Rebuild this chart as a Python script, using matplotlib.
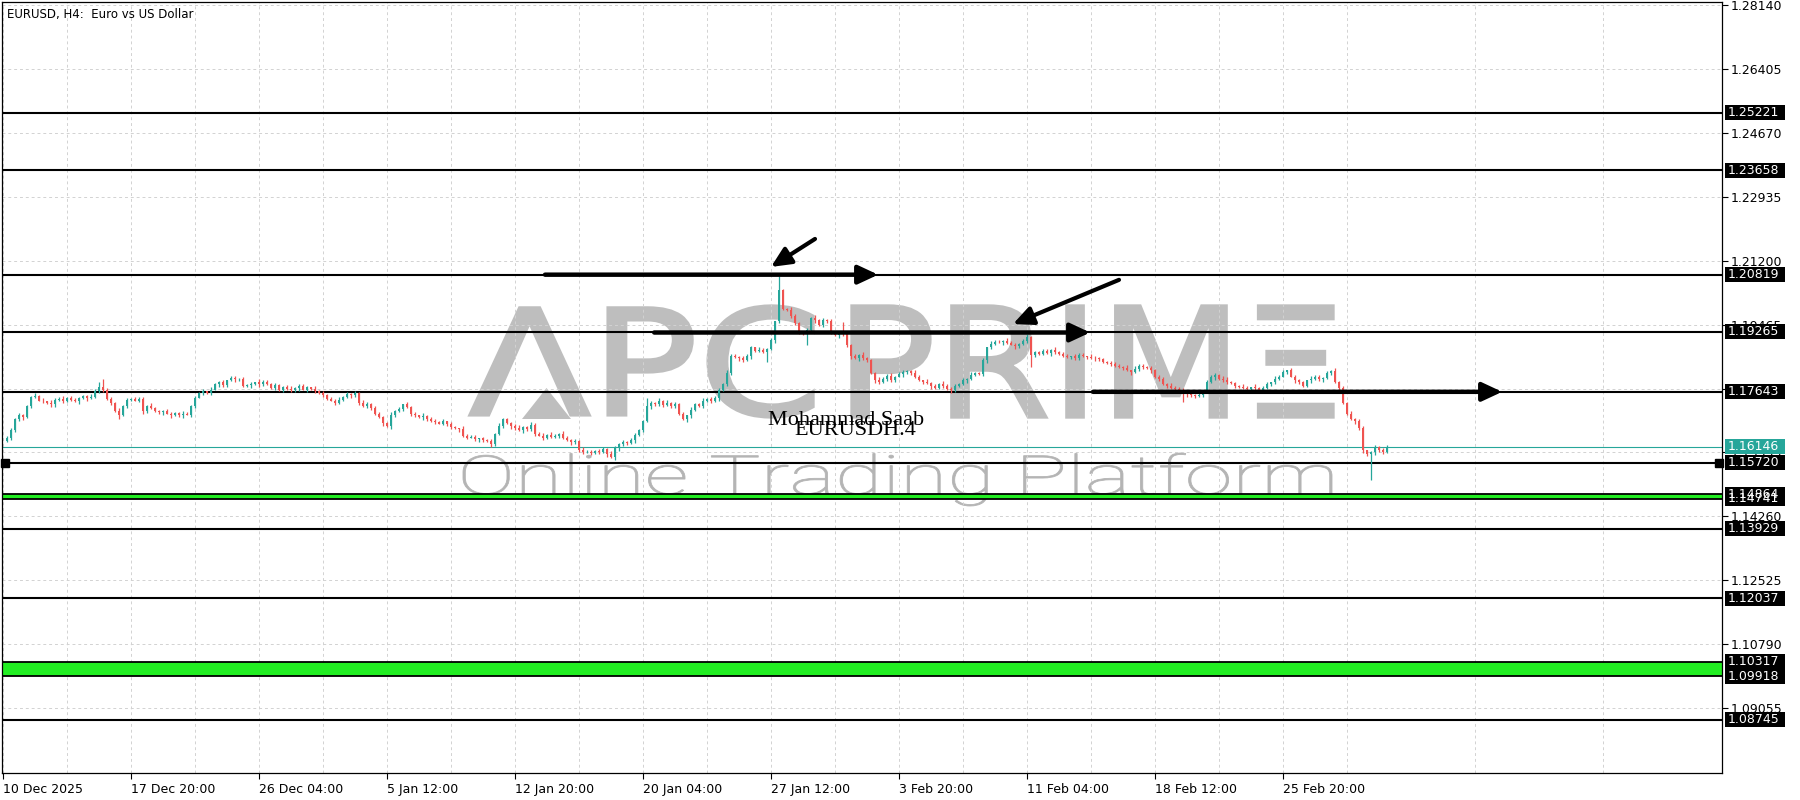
import matplotlib
matplotlib.use("Agg")
import matplotlib.pyplot as plt
import matplotlib.transforms as mtransforms
from matplotlib.patches import Rectangle, PathPatch
from matplotlib.textpath import TextPath
from matplotlib.font_manager import FontProperties
import numpy as np

# ---- data ----
# closes in pips above 1.1000, one per H4 bar (bar 1 .. 346)
close_pips = [
    640, 660, 690, 700, 695, 725, 750, 752, 740, 738,
    735, 730, 742, 745, 740, 747, 743, 738, 748, 752,
    746, 750, 765, 778, 770, 745, 735, 712, 700, 725,
    742, 745, 740, 745, 712, 725, 720, 712, 708, 712,
    705, 702, 706, 700, 704, 702, 725, 748, 760, 765,
    762, 770, 785, 790, 782, 795, 802, 798, 800, 780,
    782, 785, 790, 784, 792, 786, 775, 782, 770, 778,
    772, 768, 775, 780, 770, 776, 773, 765, 760, 755,
    745, 740, 735, 742, 750, 758, 755, 762, 735, 725,
    732, 720, 705, 695, 680, 670, 700, 712, 718, 730,
    722, 705, 700, 695, 698, 690, 685, 682, 678, 684,
    676, 668, 665, 662, 645, 640, 642, 636, 638, 632,
    630, 622, 650, 672, 690, 680, 670, 665, 660, 668,
    662, 675, 650, 645, 640, 648, 642, 645, 650, 640,
    632, 628, 630, 605, 600, 602, 598, 604, 600, 610,
    595, 588, 612, 622, 628, 625, 632, 648, 660, 685,
    725, 735, 730, 738, 728, 735, 725, 730, 705, 690,
    700, 715, 730, 725, 740, 745, 738, 748, 770, 785,
    815, 862, 858, 855, 850, 862, 885, 875, 878, 872,
    880, 905, 955, 1040, 990, 985, 970, 950, 925, 920,
    932, 965, 958, 945, 960, 955, 925, 918, 922, 920,
    890, 860, 855, 865, 855, 850, 815, 795, 790, 800,
    808, 795, 805, 812, 818, 820, 815, 805, 795, 792,
    788, 780, 775, 785, 780, 772, 768, 780, 785, 795,
    800, 810, 815, 812, 850, 885, 895, 900, 898, 903,
    897, 892, 888, 895, 902, 912, 865, 872, 868, 875,
    870, 878, 872, 868, 862, 858, 860, 855, 865, 860,
    858, 856, 855, 852, 845, 842, 840, 835, 832, 830,
    822, 818, 825, 835, 832, 828, 822, 805, 798, 785,
    780, 775, 772, 768, 760, 758, 755, 752, 756, 768,
    790, 805, 810, 800, 795, 790, 788, 780, 778, 775,
    772, 776, 774, 770, 775, 785, 790, 800, 805, 818,
    822, 805, 795, 790, 780, 795, 800, 805, 798, 802,
    815, 820, 790, 775, 735, 705, 690, 685, 665, 605,
    595, 600, 615, 605, 600, 615,
]
first_open = 1.1630

# wick sizes beyond the body, one digit per bar, in units of 2 pips
wick_up = ("2313221423 1322413212 2431322142 3122314221 3212431223 "
           "1422313212 2314221321 2413221323 1224132213 2132214231 "
           "3221413223 1321422312 2314221342 1322313214 2231422132 "
           "1432213221 3214231322 1422313221 4321322142 2313214221 "
           "3142213221 4231322142 2313221421 3221432213 1422314221 "
           "3221342213 2142231322 1432213221 3142213223 1422314221 "
           "3221342213 2142231322 1432213221 3142213223 1231322143")
wick_dn = ("1322413212 2431322142 3122314221 3212431223 1422313212 "
           "2314221321 2413221323 1224132213 2132214231 3221413223 "
           "1321422312 2314221342 1322313214 2231422132 1432213221 "
           "3214231322 1422313221 4321322142 2313214221 3142213221 "
           "4231322142 2313221421 3221432213 1422314221 3221342213 "
           "2142231322 1432213221 3142213223 1422314221 3221342213 "
           "2142231322 1432213221 3142213223 2313221423 2142313221")
# the long shadows
high_fix = {24: 1.1790, 25: 1.1800, 161: 1.1748, 194: 1.2078, 210: 1.1954}
low_fix = {29: 1.1690, 122: 1.1615, 151: 1.1588, 153: 1.1580,
           191: 1.1846, 201: 1.1891, 257: 1.1832, 295: 1.1737, 342: 1.1525}

date_bars = [0, 32, 64, 96, 128, 160, 192, 224, 256, 288, 320]
date_labels = ['10 Dec 2025', '17 Dec 20:00', '26 Dec 04:00', '5 Jan 12:00',
               '12 Jan 20:00', '20 Jan 04:00', '27 Jan 12:00', '3 Feb 20:00',
               '11 Feb 04:00', '18 Feb 12:00', '25 Feb 20:00']
price_ticks = [1.28140, 1.26405, 1.24670, 1.22935, 1.21200, 1.19465,
               1.17730, 1.15995, 1.14260, 1.12525, 1.10790, 1.09055]

levels = [1.25221, 1.23658, 1.20819, 1.19265, 1.17643, 1.15720,
          1.13929, 1.12037, 1.08745]
bands = [(1.14741, 1.14864), (1.09918, 1.10317)]
last_price = 1.16146

# arrows: (bar, price) tail -> head
h_arrows = [((135.5, 1.2082), (218.8, 1.2082)),
            ((162.8, 1.1925), (271.8, 1.1925)),
            ((272.5, 1.1764), (374.8, 1.1764))]
d_arrows = [((203.0, 1.2179), (192.0, 1.2103)),
            ((279.0, 1.2068), (252.5, 1.1948))]

# ---- build candles ----
n = len(close_pips)
bars = np.arange(1, n + 1)
closes = 1.1 + np.array(close_pips) / 10000.0
opens = np.r_[first_open, closes[:-1]]
wu = np.array([int(c) for c in wick_up.replace(' ', '')][:n]) * 0.0002
wd = np.array([int(c) for c in wick_dn.replace(' ', '')][:n]) * 0.0002
highs = np.maximum(opens, closes) + wu
lows = np.minimum(opens, closes) - wd
for b, v in high_fix.items():
    highs[b - 1] = v
for b, v in low_fix.items():
    lows[b - 1] = v

BULL = '#26a69a'
BEAR = '#ef5350'
GREEN = '#22ee22'
W, H = 1800, 800

plt.rcParams['font.family'] = ['DejaVu Sans']
fig = plt.figure(figsize=(18, 8), dpi=100)
ax = fig.add_axes([2 / W, 27 / H, 1720 / W, 771 / H])
ax.set_xlim(-0.25, 429.75)
ax.set_ylim(1.07293, 1.28222)

# grid
ax.set_xticks(date_bars)
ax.set_xticklabels(date_labels)
ax.set_xticks(np.arange(16, 430, 32), minor=True)
ax.set_yticks(price_ticks)
ax.set_yticklabels([f'{p:.5f}' for p in price_ticks])
ax.xaxis.grid(True, which='both', color='#d2d2d2', ls=(0, (3, 3)), lw=0.7)
ax.yaxis.grid(True, which='major', color='#d2d2d2', ls=(0, (3, 3)), lw=0.7)
ax.set_axisbelow(True)
ax.yaxis.tick_right()
ax.tick_params(axis='y', direction='out', length=4, width=0.8, labelsize=9, pad=2)
ax.tick_params(axis='x', which='major', direction='out', length=4, width=0.8,
               labelsize=9, pad=3)
ax.tick_params(axis='x', which='minor', length=0)
for lab in ax.get_xticklabels():
    lab.set_ha('left')
for s in ax.spines.values():
    s.set_color('black')
    s.set_linewidth(0.9)


# watermark: text outlines fitted into a pixel box (left, right, top, bottom)
def fitted_text(s, prop, box, color, edge=0.0):
    tp = TextPath((0, 0), s, size=100, prop=prop)
    ext = tp.get_extents()
    x0, x1, top, bot = box
    tr = (mtransforms.Affine2D()
          .translate(-ext.x0, -ext.y0)
          .scale((x1 - x0) / ext.width, (bot - top) / ext.height)
          .translate(x0, H - bot)
          .scale(1 / W, 1 / H) + fig.transFigure)
    ax.add_patch(PathPatch(tp, transform=tr, facecolor=color,
                           edgecolor=color if edge else 'none', lw=edge,
                           joinstyle='miter', zorder=0.5))


logo_font = FontProperties(family='DejaVu Sans', weight='normal')
fitted_text('ΛPC', logo_font, (470, 813, 306, 417), '#bebebe', edge=2.4)
fitted_text('PRIMΞ', logo_font, (852, 1333, 306, 417), '#bebebe', edge=2.4)
fitted_text('Online Trading Platform',
            FontProperties(family='Roboto', weight='light'),
            (463, 1332, 453, 506), '#b4b4b4', edge=0.6)
tri_x = np.array([522, 571, 546.5])
tri_y = np.array([419, 419, 388])
ax.fill(tri_x / W, 1 - tri_y / H, color='#bebebe', transform=fig.transFigure,
        zorder=0.5, lw=0)

# support / resistance
for lv in levels:
    ax.axhline(lv, color='black', lw=1.5, zorder=2)
for lo, hi in bands:
    ax.axhspan(lo, hi, facecolor=GREEN, edgecolor='none', zorder=1.8)
    ax.axhline(lo, color='black', lw=1.3, zorder=2)
    ax.axhline(hi, color='black', lw=1.3, zorder=2)
ax.axhline(last_price, color=BULL, lw=0.8, zorder=2)
ax.plot([0.6, 428.9], [1.15720, 1.15720], ls='none', marker='s', ms=5.5,
        color='black', zorder=3, clip_on=False)

# candles
up = closes >= opens
cols = np.where(up, BULL, BEAR)
ax.vlines(bars, lows, highs, colors=cols, lw=0.9, zorder=3)
body = np.maximum(np.abs(closes - opens), 0.00004)
ax.bar(bars, body, bottom=np.minimum(opens, closes), width=0.72, color=cols,
       lw=0, zorder=3.1)

# arrows
for (x0, y0), (x1, y1) in h_arrows:
    ax.annotate('', xy=(x1, y1), xytext=(x0, y0),
                arrowprops=dict(arrowstyle='-|>,head_length=0.6,head_width=0.28',
                                lw=3.2, color='black', mutation_scale=20,
                                shrinkA=0, shrinkB=0), zorder=4)
for (x0, y0), (x1, y1) in d_arrows:
    ax.annotate('', xy=(x1, y1), xytext=(x0, y0),
                arrowprops=dict(arrowstyle='-|>,head_length=0.6,head_width=0.28',
                                lw=3.0, color='black', mutation_scale=20,
                                shrinkA=0, shrinkB=0), zorder=4)

# author text
ax.text(210.8, 1.16875, 'Mohammad Saab', family='Liberation Serif', fontsize=16,
        ha='center', va='center', color='black', zorder=5)
ax.text(213.0, 1.16577, 'EURUSDH.4', family='Liberation Serif', fontsize=16,
        ha='center', va='center', color='black', zorder=5)

# title
ax.text(0.003, 0.992, 'EURUSD, H4:  Euro vs US Dollar', transform=ax.transAxes,
        fontsize=8.5, ha='left', va='top', color='black', zorder=6)

# price boxes on the scale
trans = mtransforms.blended_transform_factory(ax.transAxes, ax.transData)
half_h = 7.5 / 3684
box_w = 60 / 1720
box_x = 1.0017
box_prices = [1.25221, 1.23658, 1.20819, 1.19265, 1.17643, 1.15720,
              1.14741, 1.14864, 1.13929, 1.12037, 1.10317, 1.09918, 1.08745]
for p in box_prices:
    ax.add_patch(Rectangle((box_x, p - half_h), box_w, 2 * half_h,
                           transform=trans, facecolor='black', edgecolor='none',
                           clip_on=False, zorder=10))
    ax.text(box_x + 0.0015, p, f'{p:.5f}', transform=trans, color='white',
            fontsize=9, ha='left', va='center', clip_on=False, zorder=11)
ax.add_patch(Rectangle((box_x, last_price - half_h), box_w, 2 * half_h,
                       transform=trans, facecolor=BULL, edgecolor='none',
                       clip_on=False, zorder=10))
ax.text(box_x + 0.0015, last_price, f'{last_price:.5f}', transform=trans,
        color='white', fontsize=9, ha='left', va='center', clip_on=False, zorder=11)

fig.savefig('out.png', dpi=100, facecolor='white')
